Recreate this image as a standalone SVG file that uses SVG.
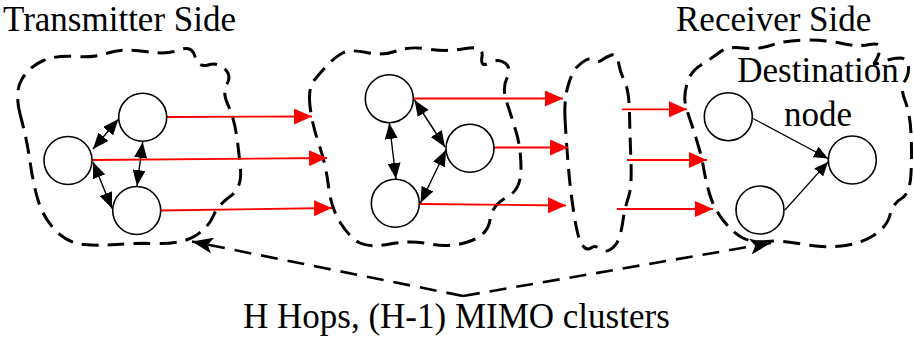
<svg xmlns="http://www.w3.org/2000/svg" width="914" height="340" viewBox="0 0 914 340">
<style>
.cloud{fill:none;stroke:#000;stroke-width:3;stroke-dasharray:17 9;stroke-linecap:butt}
.node{fill:#fff;stroke:#000;stroke-width:1.6}
.red{stroke:#f00;stroke-width:1.8;fill:none;marker-end:url(#ar)}
.blk{stroke:#000;stroke-width:1.4;fill:none;marker-start:url(#ab);marker-end:url(#ab)}
.blk1{stroke:#000;stroke-width:1.2;fill:none;marker-end:url(#ab2)}
.hop{stroke:#000;stroke-width:2.6;fill:none;stroke-dasharray:17 10;marker-end:url(#ah)}
.t{font-family:"Liberation Serif","Times New Roman",serif;font-size:35px;fill:#000}
</style>
<defs>
<marker id="ar" markerUnits="userSpaceOnUse" markerWidth="18" markerHeight="16" refX="18" refY="8" orient="auto"><path d="M0,0 L18,8 L0,16 z" fill="#f00"/></marker>
<marker id="ab" markerUnits="userSpaceOnUse" markerWidth="16" markerHeight="13" refX="16" refY="6.5" orient="auto-start-reverse"><path d="M0,0 L16,6.5 L0,13 z" fill="#000"/></marker>
<marker id="ab2" markerUnits="userSpaceOnUse" markerWidth="14" markerHeight="12" refX="14" refY="6" orient="auto"><path d="M0,0 L14,6 L0,12 z" fill="#000"/></marker>
<marker id="ah" markerUnits="userSpaceOnUse" markerWidth="21" markerHeight="16" refX="21" refY="8" orient="auto"><path d="M0,0 L21,8 L0,16 L5,8 z" fill="#000"/></marker>
</defs>
<g id="clouds">
<path id="cloud1" class="cloud" d="M20.5,116 Q14,92 22,79 Q30,66 43.5,60.5 Q57,55 75,56.5 Q93,58 108,53 Q123,48 145,51.5 Q167,55 179.5,50 Q192,45 195,56.5 Q198,68 208,65 Q218,62 225,69 Q232,76 227,84 Q222,92 228,105 Q234,118 236.5,135 Q239,152 240.5,170 Q242,188 230,196.5 Q218,205 213,216.5 Q208,228 195,236 Q182,244 157.5,243.5 Q133,243 116.5,244.5 Q100,246 83.5,244.5 Q67,243 55,230 Q43,217 38,200 Q33,183 30,161.5 Q27,140 20.5,116 Z"/>
<path id="cloud2" class="cloud" d="M310,106 Q308,88 314,80.5 Q320,73 327.5,65 Q335,57 342.5,53 Q350,49 366.5,52.5 Q383,56 396.5,51 Q410,46 428.5,49 Q447,52 465.5,48.5 Q484,45 482,56.5 Q480,68 489,63 Q498,58 505,63 Q512,68 507,78 Q502,88 506.5,101.5 Q511,115 516,131.5 Q521,148 521,169 Q521,190 506.5,197.5 Q492,205 490,220 Q488,235 469,241.5 Q450,248 430,244 Q410,240 390,244 Q370,248 360,243 Q350,238 340.5,223 Q331,208 328.5,186.5 Q326,165 319,144.5 Q312,124 310,106 Z"/>
<path id="cloud3" class="cloud" d="M565,118.5 Q564,100 568,86 Q572,72 577,67 Q582,62 586,60 Q590,58 594,60.5 Q598,63 602,60 Q606,57 611.5,55 Q617,53 618.5,62.5 Q620,72 624.5,81 Q629,90 629.5,113.5 Q630,137 631,162 Q632,187 628.5,197 Q625,207 622.5,223.5 Q620,240 615,245.5 Q610,251 606,251 Q602,251 598.5,248 Q595,245 591,248 Q587,251 582.5,245.5 Q578,240 574,214 Q570,188 568,162.5 Q566,137 565,118.5 Z"/>
<path id="cloud4" class="cloud" d="M685,101.5 Q684,95 687,83.5 Q690,72 701,65 Q712,58 720,52 Q728,46 742.5,48 Q757,50 772,45 Q787,40 807,40 Q827,40 842,43.5 Q857,47 869.5,44.5 Q882,42 880,50 Q878,58 875,62 Q872,66 882,62 Q892,58 900,58 Q908,58 908.5,66.5 Q909,75 904.5,81.5 Q900,88 905,100.5 Q910,113 911,133 Q912,153 911,173.5 Q910,194 901.5,198.5 Q893,203 890,215 Q887,227 873.5,235.5 Q860,244 841.5,246 Q823,248 801.5,244 Q780,240 766.5,241.5 Q753,243 743,238 Q733,233 723,220 Q713,207 709,192 Q705,177 703.5,167.5 Q702,158 697.5,143 Q693,128 689.5,118 Q686,108 685,101.5 Z"/>
</g>
<g id="connectors">
<line class="red" x1="166" y1="117" x2="312" y2="116.5"/>
<line class="red" x1="92" y1="160" x2="327" y2="158"/>
<line class="red" x1="160" y1="210.5" x2="332" y2="208"/>
<line class="red" x1="413" y1="98.5" x2="563" y2="98.5"/>
<line class="red" x1="493" y1="147.5" x2="568" y2="147.5"/>
<line class="red" x1="419" y1="204" x2="566" y2="205.5"/>
<line class="red" x1="622" y1="109.3" x2="687" y2="109.3"/>
<line class="red" x1="627" y1="160" x2="707" y2="160"/>
<line class="red" x1="617" y1="209" x2="713" y2="209"/>
<line class="blk" x1="93" y1="149" x2="118.5" y2="119"/>
<line class="blk" x1="142.7" y1="142" x2="137" y2="186"/>
<line class="blk" x1="93" y1="162" x2="112" y2="208.5"/>
<line class="blk" x1="389.3" y1="123" x2="396" y2="179"/>
<line class="blk" x1="414.5" y1="100" x2="445" y2="147"/>
<line class="blk" x1="446" y1="150" x2="420.5" y2="203"/>
<line class="blk1" x1="753" y1="118.5" x2="828" y2="158.5"/>
<line class="blk1" x1="785" y1="210" x2="828" y2="162"/>
<path class="hop" d="M463,296 L192,241.5"/>
<path class="hop" d="M463,296 L771,243"/>
</g>
<g id="n1"><circle class="node" cx="68" cy="160.5" r="24"/></g>
<g id="n2"><circle class="node" cx="142.7" cy="117.3" r="24"/></g>
<g id="n3"><circle class="node" cx="136.7" cy="210.5" r="24"/></g>
<g id="n4"><circle class="node" cx="389.3" cy="98.7" r="24"/></g>
<g id="n5"><circle class="node" cx="470" cy="148.3" r="24"/></g>
<g id="n6"><circle class="node" cx="395.3" cy="203.3" r="24"/></g>
<g id="n7"><circle class="node" cx="728.3" cy="116.7" r="24"/></g>
<g id="n8"><circle class="node" cx="852.3" cy="160" r="24"/></g>
<g id="n9"><circle class="node" cx="760" cy="210" r="24"/></g>
<g id="labels">
<text class="t" x="3" y="31">Transmitter Side</text>
<text class="t" x="676" y="31">Receiver Side</text>
<text class="t" x="818" y="82" text-anchor="middle">Destination</text>
<text class="t" x="818" y="126" text-anchor="middle">node</text>
<text class="t" x="243" y="328">H Hops, (H-1) MIMO clusters</text>
</g>
</svg>
